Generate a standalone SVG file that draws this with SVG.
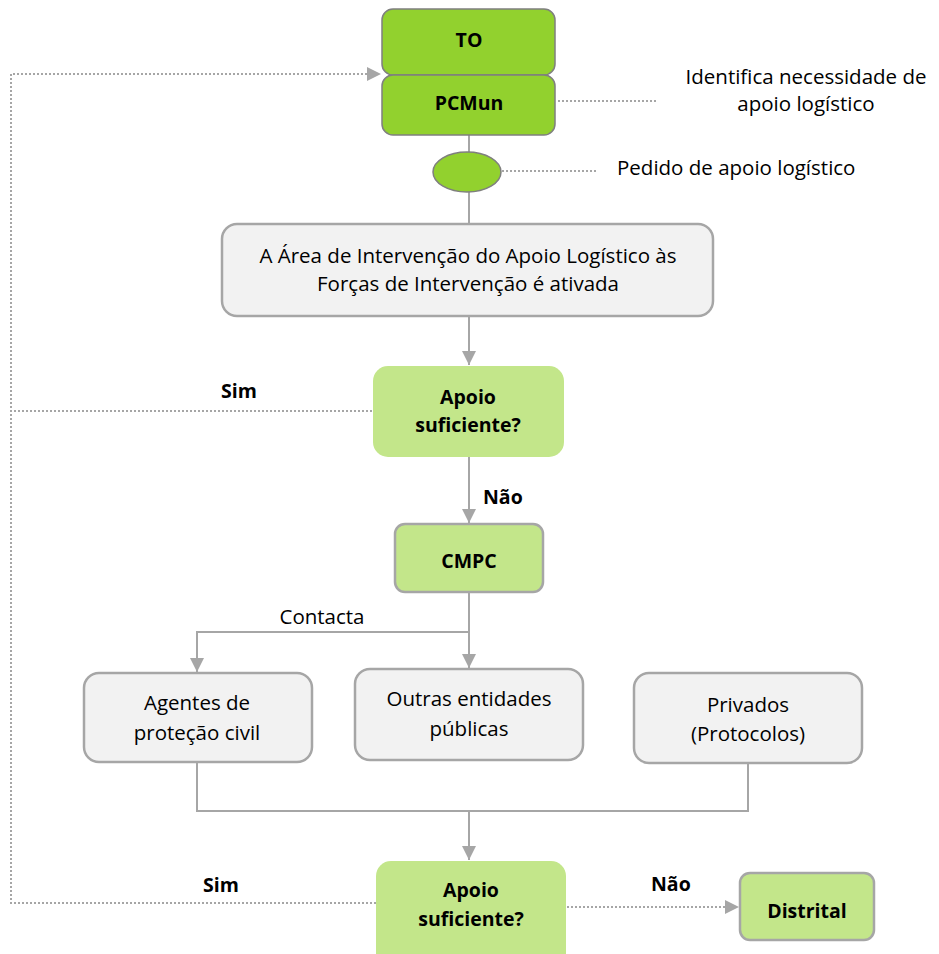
<svg xmlns="http://www.w3.org/2000/svg" width="939" height="954" viewBox="0 0 939 954">
<defs>
<marker id="ah" viewBox="0 0 10 10" refX="10" refY="5" markerWidth="7" markerHeight="7" markerUnits="strokeWidth" orient="auto">
<path d="M0,0 L10,5 L0,10 z" fill="#a6a6a6"/>
</marker>
<style>
.t{font-family:"Open Sans","Liberation Sans",sans-serif;font-size:20.5px;fill:#000}
.b{font-weight:bold;font-size:19.5px}
.m{text-anchor:middle}
.ln{fill:none;stroke:#a6a6a6;stroke-width:2}
.dt{fill:none;stroke:#a6a6a6;stroke-width:2;stroke-dasharray:2 2}
.gray{fill:#f2f2f2;stroke:#a6a6a6;stroke-width:2.5}
.bright{fill:#92d12e;stroke:#7f7f7f;stroke-width:1.5}
.light{fill:#c3e68a}
.lightb{fill:#c3e68a;stroke:#a6a6a6;stroke-width:2.5}
</style>
</defs>
<rect width="939" height="954" fill="#fff"/>
<g id="connectors">
<line class="ln" x1="469" y1="135" x2="469" y2="152"/>
<line class="ln" x1="469" y1="192" x2="469" y2="224"/>
<line class="ln" x1="469" y1="317" x2="469" y2="365" marker-end="url(#ah)"/>
<line class="ln" x1="469" y1="457" x2="469" y2="523" marker-end="url(#ah)"/>
<line class="ln" x1="469" y1="592" x2="469" y2="668" marker-end="url(#ah)"/>
<polyline class="ln" points="469,632 197,632 197,672" marker-end="url(#ah)"/>
<polyline class="ln" points="197,763 197,811 748,811 748,764"/>
<line class="ln" x1="469" y1="811" x2="469" y2="860" marker-end="url(#ah)"/>
<line class="dt" x1="558" y1="101" x2="657" y2="101"/>
<line class="dt" x1="502" y1="171" x2="598" y2="171"/>
<polyline class="dt" points="372,411 11,411"/>
<polyline class="dt" points="376,903 11,903 11,74 381,74" marker-end="url(#ah)"/>
<line class="dt" x1="567" y1="907" x2="739" y2="907" marker-end="url(#ah)"/>
</g>
<g id="to">
<rect class="bright" x="382" y="9" width="173" height="66" rx="11"/>
<text class="t b m" x="469" y="47">TO</text>
</g>
<g id="pcmun">
<rect class="bright" x="382" y="75" width="173" height="60" rx="11"/>
<text class="t b m" x="469" y="110">PCMun</text>
</g>
<g id="pedido">
<ellipse class="bright" cx="467" cy="172" rx="34" ry="20"/>
</g>
<g id="nota-identifica">
<text class="t m" x="806" y="84">Identifica necessidade de</text>
<text class="t m" x="806" y="111">apoio logístico</text>
</g>
<g id="nota-pedido">
<text class="t" x="617" y="175">Pedido de apoio logístico</text>
</g>
<g id="area">
<rect class="gray" x="222" y="224" width="491" height="92" rx="15"/>
<text class="t m" x="468" y="263">A Área de Intervenção do Apoio Logístico às</text>
<text class="t m" x="468" y="291">Forças de Intervenção é ativada</text>
</g>
<g id="apoio1">
<rect class="light" x="373" y="366" width="191" height="91" rx="15"/>
<text class="t b m" x="468" y="404">Apoio</text>
<text class="t b m" x="468" y="432">suficiente?</text>
</g>
<text class="t b" x="221" y="398">Sim</text>
<text class="t b" x="483" y="504">Não</text>
<g id="cmpc">
<rect class="lightb" x="395" y="524" width="148" height="68" rx="10"/>
<text class="t b m" x="469" y="568">CMPC</text>
</g>
<text class="t m" x="322" y="624">Contacta</text>
<g id="agentes">
<rect class="gray" x="84" y="673" width="228" height="89" rx="15"/>
<text class="t m" x="197" y="710">Agentes de</text>
<text class="t m" x="197" y="740">proteção civil</text>
</g>
<g id="outras">
<rect class="gray" x="355" y="669" width="228" height="91" rx="15"/>
<text class="t m" x="469" y="706">Outras entidades</text>
<text class="t m" x="469" y="736">públicas</text>
</g>
<g id="privados">
<rect class="gray" x="634" y="673" width="228" height="90" rx="15"/>
<text class="t m" x="748" y="712">Privados</text>
<text class="t m" x="748" y="741">(Protocolos)</text>
</g>
<g id="apoio2">
<rect class="light" x="376" y="861" width="190" height="110" rx="15"/>
<text class="t b m" x="471" y="897">Apoio</text>
<text class="t b m" x="471" y="926">suficiente?</text>
</g>
<text class="t b" x="203" y="892">Sim</text>
<text class="t b" x="651" y="891">Não</text>
<g id="distrital">
<rect class="lightb" x="740" y="873" width="134" height="67" rx="10"/>
<text class="t b m" x="807" y="918">Distrital</text>
</g>
</svg>
